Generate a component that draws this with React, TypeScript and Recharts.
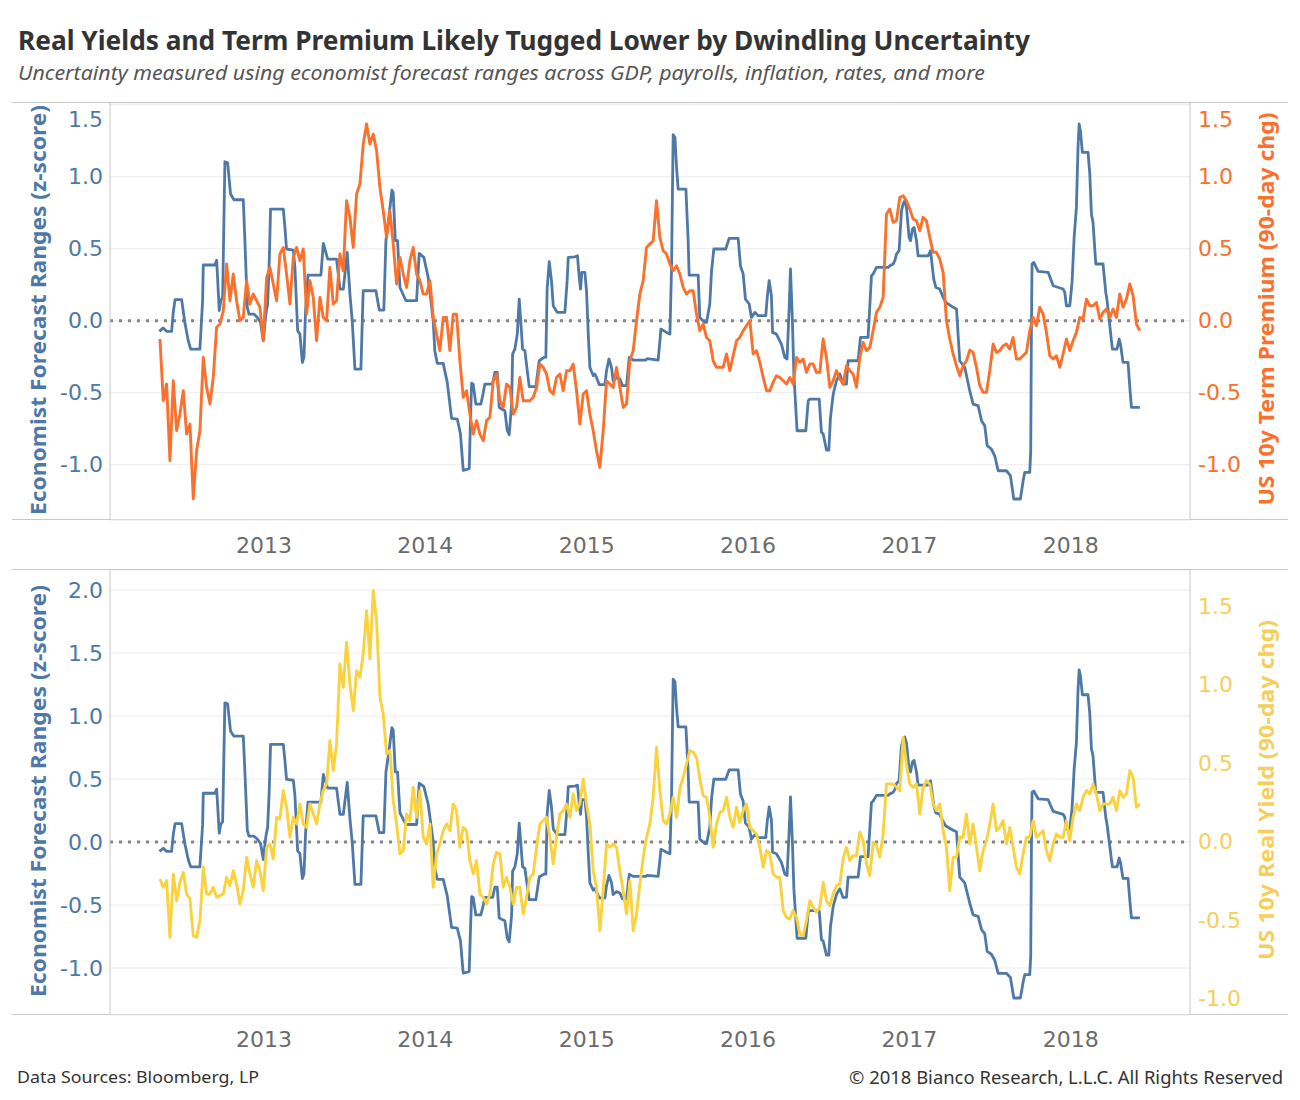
import React from 'react';
import { LineChart, Line, XAxis, YAxis, CartesianGrid, ReferenceLine } from 'recharts';

// ---------- DATA ----------
const YEAR_TICKS = [2013, 2014, 2015, 2016, 2017, 2018];
const TOP_LEFT_TICKS = [-1, -0.5, 0, 0.5, 1, 1.5];
const TOP_RIGHT_TICKS = [-1, -0.5, 0, 0.5, 1, 1.5];
const BOT_LEFT_TICKS = [-1, -0.5, 0, 0.5, 1, 1.5, 2];
const BOT_RIGHT_TICKS = [-1, -0.5, 0, 0.5, 1, 1.5];

// Economist forecast range uncertainty (z-score): [decimal year, value]
const UNCERTAINTY: [number, number][] = [
  [2012.352,-0.074],[2012.376,-0.05],[2012.397,-0.074],[2012.428,-0.074],[2012.438,0.058],[2012.449,0.146],[2012.49,0.146],[2012.511,-0.02],[2012.531,-0.139],[2012.546,-0.197],[2012.603,-0.197],[2012.62,0.14],[2012.624,0.387],[2012.696,0.387],[2012.707,0.42],[2012.723,0.07],[2012.732,0.139],[2012.744,0.162],[2012.758,1.104],[2012.775,1.097],[2012.793,0.88],[2012.814,0.84],[2012.872,0.84],[2012.882,0.556],[2012.897,0.093],[2012.907,0.046],[2012.938,0.046],[2012.959,0.023],[2012.979,-0.012],[2012.996,-0.139],
  [2013.012,0.046],[2013.023,0.116],[2013.033,0.417],[2013.041,0.775],[2013.12,0.775],[2013.13,0.648],[2013.14,0.498],[2013.182,0.491],[2013.192,0.37],[2013.209,-0.07],[2013.223,-0.093],[2013.238,-0.29],[2013.248,-0.255],[2013.258,0.07],[2013.273,0.317],[2013.353,0.317],[2013.368,0.537],[2013.395,0.428],[2013.45,0.428],[2013.471,0.22],[2013.492,0.22],[2013.516,0.474],[2013.533,0.185],[2013.547,0],[2013.564,-0.336],[2013.601,-0.336],[2013.615,0.208],[2013.694,0.208],[2013.715,0.074],[2013.743,0.074],[2013.756,0.556],[2013.772,0.694],[2013.793,0.907],[2013.801,0.891],[2013.814,0.556],[2013.828,0.556],[2013.843,0.231],[2013.88,0.139],[2013.946,0.139],[2013.962,0.468],[2013.991,0.44],
  [2014.018,0.3],[2014.049,0],[2014.059,-0.208],[2014.074,-0.296],[2014.111,-0.296],[2014.136,-0.428],[2014.163,-0.678],[2014.198,-0.683],[2014.218,-0.787],[2014.235,-1.04],[2014.272,-1.028],[2014.28,-0.694],[2014.287,-0.433],[2014.297,-0.44],[2014.313,-0.579],[2014.344,-0.579],[2014.359,-0.502],[2014.369,-0.44],[2014.417,-0.44],[2014.431,-0.359],[2014.446,-0.359],[2014.458,-0.602],[2014.473,-0.613],[2014.493,-0.625],[2014.508,-0.764],[2014.52,-0.792],[2014.535,-0.579],[2014.541,-0.231],[2014.555,-0.197],[2014.57,-0.093],[2014.582,0.15],[2014.59,0.023],[2014.603,-0.197],[2014.617,-0.208],[2014.627,-0.301],[2014.644,-0.458],[2014.685,-0.458],[2014.706,-0.278],[2014.735,-0.255],[2014.747,-0.255],[2014.755,0.22],[2014.768,0.41],[2014.782,0.278],[2014.793,0.104],[2014.817,0.058],[2014.865,0.058],[2014.879,0.278],[2014.886,0.44],[2014.927,0.444],[2014.943,0.451],[2014.954,0.3],[2014.962,0.22],[2014.97,0.336],[2014.989,0.336],[2014.999,0.208],
  [2015.01,-0.093],[2015.02,-0.324],[2015.041,-0.382],[2015.051,-0.37],[2015.061,-0.394],[2015.078,-0.444],[2015.113,-0.444],[2015.123,-0.347],[2015.138,-0.266],[2015.154,-0.324],[2015.164,-0.417],[2015.185,-0.394],[2015.206,-0.405],[2015.222,-0.451],[2015.247,-0.451],[2015.264,-0.255],[2015.288,-0.273],[2015.367,-0.273],[2015.375,-0.264],[2015.443,-0.273],[2015.454,-0.139],[2015.46,-0.058],[2015.478,-0.069],[2015.495,-0.081],[2015.516,-0.093],[2015.526,0.37],[2015.536,1.292],[2015.547,1.273],[2015.557,1.065],[2015.567,0.914],[2015.615,0.914],[2015.629,0.556],[2015.635,0.317],[2015.691,0.317],[2015.701,0.023],[2015.732,-0.012],[2015.743,-0.012],[2015.763,0.116],[2015.774,0.347],[2015.788,0.498],[2015.862,0.498],[2015.883,0.572],[2015.939,0.572],[2015.953,0.382],[2015.97,0.324],[2015.984,0.15],
  [2016.007,0.116],[2016.021,0.023],[2016.042,0.058],[2016.063,0.035],[2016.11,0.035],[2016.119,0.162],[2016.131,0.278],[2016.145,0.174],[2016.152,-0.081],[2016.176,-0.093],[2016.207,-0.162],[2016.228,-0.255],[2016.242,-0.266],[2016.255,0.093],[2016.263,0.359],[2016.275,0],[2016.284,-0.37],[2016.304,-0.764],[2016.358,-0.764],[2016.373,-0.556],[2016.383,-0.544],[2016.441,-0.544],[2016.455,-0.775],[2016.466,-0.787],[2016.486,-0.898],[2016.501,-0.898],[2016.511,-0.671],[2016.528,-0.509],[2016.548,-0.417],[2016.569,-0.37],[2016.589,-0.44],[2016.61,-0.44],[2016.62,-0.278],[2016.682,-0.278],[2016.697,-0.116],[2016.744,-0.116],[2016.765,0.313],[2016.775,0.324],[2016.796,0.37],[2016.868,0.37],[2016.879,0.382],[2016.899,0.394],[2016.91,0.417],[2016.92,0.463],[2016.936,0.486],[2016.951,0.764],[2016.961,0.81],[2016.971,0.833],[2016.982,0.787],[2016.998,0.579],
  [2017.007,0.556],[2017.019,0.637],[2017.029,0.648],[2017.044,0.556],[2017.054,0.451],[2017.116,0.451],[2017.131,0.486],[2017.151,0.289],[2017.164,0.231],[2017.188,0.22],[2017.209,0.162],[2017.226,0.127],[2017.271,0.093],[2017.292,0.081],[2017.312,-0.278],[2017.343,-0.324],[2017.374,-0.486],[2017.395,-0.579],[2017.426,-0.59],[2017.447,-0.694],[2017.467,-0.729],[2017.482,-0.868],[2017.508,-0.891],[2017.529,-0.938],[2017.55,-1.042],[2017.601,-1.042],[2017.626,-1.076],[2017.647,-1.238],[2017.688,-1.238],[2017.705,-1.111],[2017.715,-1.053],[2017.746,-1.053],[2017.752,-0.903],[2017.756,-0.093],[2017.76,0.394],[2017.771,0.405],[2017.798,0.343],[2017.86,0.336],[2017.891,0.243],[2017.953,0.22],[2017.963,0.197],[2017.973,0.104],[2017.994,0.104],
  [2018.008,0.266],[2018.021,0.579],[2018.035,0.787],[2018.045,1.204],[2018.052,1.366],[2018.06,1.319],[2018.072,1.169],[2018.107,1.169],[2018.118,1.019],[2018.128,0.741],[2018.138,0.683],[2018.155,0.394],[2018.2,0.394],[2018.217,0.197],[2018.225,0.139],[2018.258,-0.197],[2018.287,-0.197],[2018.3,-0.127],[2018.308,-0.162],[2018.324,-0.289],[2018.355,-0.289],[2018.366,-0.463],[2018.376,-0.602],[2018.428,-0.602],
];

// Sampling dates for the two market series (about weekly)
const SERIES_START = 2012.3556;
const SERIES_STEP = 0.020653;

// US 10y term premium, 90-day change
const TERM_PREMIUM = [
  -0.127,-0.556,-0.44,-0.972,-0.417,-0.764,-0.648,-0.486,-0.787,-0.718,
  -1.238,-0.903,-0.764,-0.255,-0.463,-0.579,-0.394,-0.046,-0.023,0.069,
  0.394,0.139,0.324,0.139,0,0.023,0.278,0.116,0.185,0.139,
  0.093,-0.139,0.301,0.37,0.255,0.139,0.463,0.509,0.324,0.116,
  0.44,0.509,0.417,0.498,0.046,0.278,0.162,-0.139,0.162,0.023,
  0,0.37,0.116,0.139,0.463,0.347,0.833,0.718,0.509,0.88,
  0.949,1.227,1.366,1.227,1.296,1.181,0.926,0.764,0.579,0.764,
  0.532,0.255,0.44,0.324,0.231,0.417,0.509,0.324,0.278,0.185,
  0.185,0.278,0.023,-0.093,-0.208,0.023,0.023,-0.208,0.046,0.046,
  -0.278,-0.532,-0.486,-0.648,-0.787,-0.694,-0.787,-0.833,-0.694,-0.671,
  -0.417,-0.37,-0.556,
  -0.602,-0.44,-0.463,-0.648,-0.602,-0.394,-0.556,-0.556,-0.556,-0.532,
  -0.463,-0.301,-0.324,-0.37,-0.486,-0.509,-0.394,-0.37,-0.486,-0.347,
  -0.347,-0.301,-0.486,-0.718,-0.509,-0.486,-0.648,-0.764,-0.903,-1.019,
  -0.764,-0.417,-0.44,-0.463,-0.324,-0.463,-0.602,-0.579,-0.278,-0.208,
  0,0.185,0.278,0.509,0.532,0.556,0.833,0.579,0.486,0.463,
  0.394,0.347,0.382,0.324,0.231,0.185,0.208,0.208,0.046,-0.069,
  -0.023,-0.116,-0.139,-0.278,-0.324,-0.324,-0.324,-0.231,-0.347,-0.243,
  -0.139,-0.116,-0.069,-0.035,0,-0.231,-0.208,-0.289,-0.394,-0.486,
  -0.486,-0.428,-0.382,-0.394,-0.417,-0.44,-0.394,-0.44,-0.255,-0.289,
  -0.266,-0.359,-0.301,-0.301,-0.359,-0.359,-0.127,-0.255,-0.463,-0.417,
  -0.347,-0.405,-0.44,-0.313,-0.347,-0.37,-0.463,-0.255,-0.15,-0.208,
  -0.185,-0.069,0.058,0.093,
  0.162,0.741,0.775,0.683,0.694,0.856,0.868,0.833,0.775,0.706,
  0.694,0.625,0.718,0.694,0.579,0.475,0.475,0.428,0.336,0,
  -0.127,-0.231,-0.313,-0.382,-0.313,-0.278,-0.204,-0.22,-0.324,-0.451,
  -0.498,-0.498,-0.347,-0.162,-0.22,-0.208,-0.174,-0.162,-0.197,-0.116,
  -0.266,-0.266,-0.243,-0.22,-0.069,0.023,-0.035,0.093,0.046,-0.081,
  -0.243,-0.266,-0.243,-0.324,-0.231,-0.127,-0.208,-0.139,-0.081,0.023,
  0.012,0.15,0.104,0.104,0.127,0.012,0.058,0.081,0.023,0.081,
  0.023,0.185,0.093,0.15,0.255,0.174,-0.023,-0.069,
];

// US 10y real yield, 90-day change
const REAL_YIELD = [
  -0.236,-0.289,-0.246,-0.607,-0.204,-0.374,-0.257,-0.193,-0.331,-0.363,
  -0.597,-0.607,-0.501,-0.161,-0.331,-0.331,-0.289,-0.352,-0.342,-0.331,
  -0.225,-0.278,-0.183,-0.268,-0.395,-0.31,-0.098,-0.204,-0.289,-0.119,
  -0.183,-0.31,-0.034,-0.013,-0.108,0.157,0.146,0.327,0.221,0.03,
  0.157,0.115,0.242,0.115,0.093,0.242,0.178,0.115,0.242,0.327,
  0.369,0.645,0.454,0.624,1.134,0.985,1.272,1.006,0.837,1.091,
  1.049,1.197,1.473,1.166,1.601,1.41,0.921,0.815,0.561,0.582,
  0.263,0.115,-0.076,-0.055,0.178,0.136,0.348,0.157,0.327,0.03,
  -0.013,0.115,-0.289,-0.076,-0.013,0.072,0.115,0.072,0.242,0.2,
  -0.034,0.093,0.072,-0.119,-0.204,-0.119,-0.331,-0.352,-0.395,-0.331,
  -0.14,-0.066,-0.076,
  -0.289,-0.225,-0.289,-0.395,-0.289,-0.289,-0.459,-0.352,-0.225,-0.204,
  -0.034,0.115,0.136,0.157,0.03,-0.14,0.03,0.178,0.2,0.242,
  0.157,0.306,0.2,0.242,0.401,0.242,0.115,-0.183,-0.289,-0.565,
  -0.31,-0.013,-0.034,-0.013,-0.034,-0.183,-0.31,-0.459,-0.246,-0.565,
  -0.459,-0.268,-0.098,0.03,0.115,0.285,0.603,0.327,0.136,0.115,
  0.178,0.285,0.157,0.338,0.412,0.497,0.582,0.571,0.539,0.401,
  0.295,0.285,0.157,-0.034,0.115,0.189,0.2,0.285,0.157,0.093,
  0.221,0.125,0.2,0.242,0.093,0.072,0.051,-0.034,-0.161,-0.055,
  -0.076,-0.204,-0.225,-0.225,-0.437,-0.48,-0.49,-0.437,-0.48,-0.586,
  -0.597,-0.501,-0.374,-0.416,-0.448,-0.416,-0.257,-0.374,-0.406,-0.331,
  -0.278,-0.268,-0.108,-0.034,-0.119,-0.087,-0.087,0.062,0.008,-0.14,
  -0.214,-0.002,-0.023,-0.098,
  0.051,0.369,0.369,0.369,0.348,0.327,0.667,0.497,0.369,0.348,
  0.369,0.178,0.348,0.391,0.369,0.242,0.2,0.242,0.072,-0.034,
  -0.31,-0.098,-0.098,0.03,0.03,0.178,-0.013,0.115,-0.034,-0.183,
  -0.055,0.008,0.115,0.242,0.072,0.093,0.136,-0.013,0.093,-0.034,
  -0.161,-0.204,-0.076,0.03,0.03,0.136,0.03,0.051,0.072,-0.055,
  -0.119,-0.013,0.051,0.03,0.03,0.136,0.008,0.157,0.242,0.2,
  0.285,0.327,0.306,0.369,0.306,0.2,0.242,0.242,0.242,0.285,
  0.2,0.327,0.285,0.306,0.454,0.412,0.221,0.242,
];

// ---------- STYLE ----------
const BLUE = '#4e79a7';
const ORANGE = '#fa702d';
const YELLOW = '#f9d23e';
const YELLOW_TEXT = '#f5cf5c';
const GRID = '#ececec';
const RULE = '#c8c8c8';
const TICK_FONT = '"DejaVu Sans", sans-serif';
const TEXT_FONT = '"Noto Sans", sans-serif';

const uncertaintyData = UNCERTAINTY.map(([x, v]) => ({ x, v }));
const termPremiumData = TERM_PREMIUM.map((v, i) => ({ x: SERIES_START + i * SERIES_STEP, v }));
const realYieldData = REAL_YIELD.map((v, i) => ({ x: SERIES_START + i * SERIES_STEP, v }));

const X_DOMAIN: [number, number] = [2012.046, 2018.739];

function makeYTick(color: string, anchor: 'start' | 'end', shiftValue: number | null) {
  return (props: any) => {
    const { x, y, payload } = props;
    const shift = shiftValue !== null && payload.value === shiftValue ? 15 : 0;
    return (
      <text x={x} y={y + shift} textAnchor={anchor} dominantBaseline="central"
        fill={color} fontSize={22} fontFamily={TICK_FONT}>
        {Number(payload.value).toFixed(1)}
      </text>
    );
  };
}

const xTick = { fill: '#6b6b6b', fontSize: 22, fontFamily: TICK_FONT };

function Panel(props: {
  height: number; leftDomain: [number, number]; rightDomain: [number, number];
  leftTicks: number[]; rightTicks: number[]; rightData: any[]; rightColor: string;
  rightTickColor: string; shiftTop: number | null; tickMargin: number;
}) {
  return (
    <LineChart width={1300} height={props.height} margin={{ top: 0, right: 0, bottom: 0, left: 0 }}>
      <CartesianGrid yAxisId="left" vertical={false} stroke={GRID} strokeWidth={1} />
      <XAxis dataKey="x" type="number" domain={X_DOMAIN} allowDataOverflow ticks={YEAR_TICKS}
        tickFormatter={(v: number) => String(v)} axisLine={false} tickLine={false}
        tickSize={0} tickMargin={props.tickMargin} height={50} tick={xTick} interval={0} />
      <YAxis yAxisId="left" orientation="left" width={110} domain={props.leftDomain}
        allowDataOverflow ticks={props.leftTicks} interval={0} tickLine={false} tickSize={0}
        tickMargin={7} axisLine={{ stroke: RULE }} tick={makeYTick(BLUE, 'end', props.shiftTop)} />
      <YAxis yAxisId="right" orientation="right" width={110} domain={props.rightDomain}
        allowDataOverflow ticks={props.rightTicks} interval={0} tickLine={false} tickSize={0}
        tickMargin={8} axisLine={{ stroke: RULE }}
        tick={makeYTick(props.rightTickColor, 'start', props.shiftTop)} />
      <ReferenceLine yAxisId="left" y={0} stroke="#858585" strokeWidth={3}
        strokeDasharray="3 6" />
      <Line yAxisId="left" data={uncertaintyData} dataKey="v" type="linear" stroke={BLUE}
        strokeWidth={2.8} dot={false} isAnimationActive={false} strokeLinejoin="round" />
      <Line yAxisId="right" data={props.rightData} dataKey="v" type="linear" stroke={props.rightColor}
        strokeWidth={2.9} dot={false} isAnimationActive={false} strokeLinejoin="round" />
    </LineChart>
  );
}

export default function App() {
  return (
    <div style={{ position: 'relative', width: 1300, height: 1100, margin: -8, background: '#fff', overflow: 'hidden' }}>
      <svg width={1300} height={1100} style={{ position: 'absolute', left: 0, top: 0 }}>
        <text x={18} y={50} fontFamily={TEXT_FONT} fontWeight={700} fontSize={26} fill="#333"
          textLength={1012} lengthAdjust="spacingAndGlyphs">
          Real Yields and Term Premium Likely Tugged Lower by Dwindling Uncertainty
        </text>
        <text x={18} y={80} fontFamily={TEXT_FONT} fontStyle="italic" fontSize={19} fill="#555"
          textLength={967} lengthAdjust="spacingAndGlyphs">
          Uncertainty measured using economist forecast ranges across GDP, payrolls, inflation, rates, and more
        </text>
        <line x1={12} x2={1288} y1={102.5} y2={102.5} stroke={RULE} />
        <line x1={12} x2={1288} y1={519.5} y2={519.5} stroke={RULE} />
        <line x1={12} x2={1288} y1={569.5} y2={569.5} stroke={RULE} />
        <line x1={12} x2={1288} y1={1014.5} y2={1014.5} stroke={RULE} />
        <text transform="translate(38,310) rotate(-90)" textAnchor="middle" dominantBaseline="central"
          fontFamily={TEXT_FONT} fontWeight={700} fontSize={21} fill={BLUE}
          textLength={410} lengthAdjust="spacingAndGlyphs">Economist Forecast Ranges (z-score)</text>
        <text transform="translate(38,791) rotate(-90)" textAnchor="middle" dominantBaseline="central"
          fontFamily={TEXT_FONT} fontWeight={700} fontSize={21} fill={BLUE}
          textLength={412} lengthAdjust="spacingAndGlyphs">Economist Forecast Ranges (z-score)</text>
        <text transform="translate(1266,309) rotate(-90)" textAnchor="middle" dominantBaseline="central"
          fontFamily={TEXT_FONT} fontWeight={700} fontSize={21} fill={ORANGE}
          textLength={393} lengthAdjust="spacingAndGlyphs">US 10y Term Premium (90-day chg)</text>
        <text transform="translate(1266,790) rotate(-90)" textAnchor="middle" dominantBaseline="central"
          fontFamily={TEXT_FONT} fontWeight={700} fontSize={21} fill={YELLOW_TEXT}
          textLength={340} lengthAdjust="spacingAndGlyphs">US 10y Real Yield (90-day chg)</text>
        <text x={17} y={1083} fontFamily={TEXT_FONT} fontSize={17} fill="#333"
          textLength={242} lengthAdjust="spacingAndGlyphs">Data Sources: Bloomberg, LP</text>
        <text x={849} y={1084} fontFamily={TEXT_FONT} fontSize={17.5} fill="#333"
          textLength={434} lengthAdjust="spacingAndGlyphs">
          © 2018 Bianco Research, L.L.C. All Rights Reserved
        </text>
      </svg>
      <div style={{ position: 'absolute', left: 0, top: 102.5 }}>
        <Panel height={467} leftDomain={[-1.384, 1.512]} rightDomain={[-1.384, 1.512]}
          leftTicks={TOP_LEFT_TICKS} rightTicks={TOP_RIGHT_TICKS} rightData={termPremiumData}
          rightColor={ORANGE} rightTickColor={ORANGE} shiftTop={1.5} tickMargin={17} />
      </div>
      <div style={{ position: 'absolute', left: 0, top: 569.5 }}>
        <Panel height={495} leftDomain={[-1.373, 2.159]} rightDomain={[-1.102, 1.732]}
          leftTicks={BOT_LEFT_TICKS} rightTicks={BOT_RIGHT_TICKS} rightData={realYieldData}
          rightColor={YELLOW} rightTickColor={YELLOW_TEXT} shiftTop={null} tickMargin={16} />
      </div>
    </div>
  );
}
